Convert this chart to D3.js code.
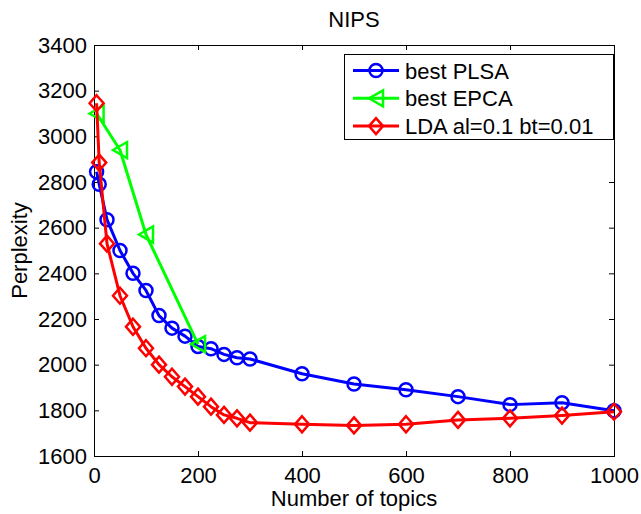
<!DOCTYPE html>
<html>
<head>
<meta charset="utf-8">
<script src="https://cdn.jsdelivr.net/npm/d3@7"></script>
<style>
  body { margin: 0; background: #fff; }
  svg text { font-family: "Liberation Sans", Arial, Helvetica, sans-serif; }
</style>
</head>
<body>
<svg id="plot" width="641" height="514"></svg>
<script>
// data
var topics = [5, 10, 25, 50, 75, 100, 125, 150, 175, 200, 225, 250, 275, 300, 400, 500, 600, 700, 800, 900, 1000];
var plsa = [2845, 2790, 2635, 2500, 2400, 2325, 2215, 2160, 2125, 2080, 2070, 2045, 2030, 2025, 1960, 1915, 1890, 1860, 1825, 1833, 1798];
var epcaTopics = [5, 50, 100, 200];
var epca = [3100, 2940, 2570, 2090];
var lda = [3145, 2885, 2530, 2302, 2166, 2072, 2000, 1947, 1904, 1860, 1816, 1780, 1765, 1746, 1739, 1734, 1739, 1758, 1765, 1777, 1794];
var seriesNames = ["best PLSA", "best EPCA", "LDA al=0.1 bt=0.01"];
var xTicks = [0, 200, 400, 600, 800, 1000];
var yTicks = [1600, 1800, 2000, 2200, 2400, 2600, 2800, 3000, 3200, 3400];

var svg = d3.select("#plot"),
    margin = {top: 45, right: 27, bottom: 58, left: 94},
    width = +svg.attr("width") - margin.left - margin.right,
    height = +svg.attr("height") - margin.top - margin.bottom;

var x = d3.scaleLinear().domain([0, 1000]).range([margin.left, margin.left + width]),
    y = d3.scaleLinear().domain([1600, 3400]).range([margin.top + height, margin.top]);

var series = [
    {name: seriesNames[0], color: "#0000ff", marker: "circle", pts: topics.map(function(t, i) { return [t, plsa[i]]; })},
    {name: seriesNames[1], color: "#00ff00", marker: "triangle", pts: epcaTopics.map(function(t, i) { return [t, epca[i]]; })},
    {name: seriesNames[2], color: "#ff0000", marker: "diamond", pts: topics.map(function(t, i) { return [t, lda[i]]; })}
];

// marker shapes, drawn hollow like matlab
function markerPath(type) {
    if (type == "triangle") return "M-7,0L7,-8L7,8Z";
    if (type == "diamond") return "M0,-8L7,0L0,8L-7,0Z";
    return null;
}
function drawMarker(sel, s, cx, cy) {
    if (s.marker == "circle") {
        sel.append("circle").attr("cx", cx).attr("cy", cy).attr("r", 6.5)
            .attr("fill", "none").attr("stroke", s.color).attr("stroke-width", 2.5);
    } else {
        sel.append("path").attr("d", markerPath(s.marker))
            .attr("transform", "translate(" + cx + "," + cy + ")")
            .attr("fill", "none").attr("stroke", s.color).attr("stroke-width", 2.5)
            .attr("stroke-linejoin", "miter");
    }
}

// axes with inward ticks on all four sides
var fs = "22px";
var fmt = d3.format("d");
svg.append("g").attr("transform", "translate(" + margin.left + ",0)")
    .call(d3.axisLeft(y).tickValues(yTicks).tickFormat(fmt).tickSizeInner(-5).tickSizeOuter(0).tickPadding(7))
    .call(function(g) { g.select(".domain").remove(); })
    .selectAll("text").style("font-size", fs).attr("fill", "#000");
svg.append("g").attr("transform", "translate(0," + (margin.top + height) + ")")
    .call(d3.axisBottom(x).tickValues(xTicks).tickFormat(fmt).tickSizeInner(-5).tickSizeOuter(0).tickPadding(11))
    .call(function(g) { g.select(".domain").remove(); })
    .selectAll("text").style("font-size", fs).attr("fill", "#000");
svg.append("g").attr("transform", "translate(0," + margin.top + ")")
    .call(d3.axisTop(x).tickValues(xTicks).tickSizeInner(-5).tickSizeOuter(0).tickFormat(""))
    .call(function(g) { g.select(".domain").remove(); });
svg.append("g").attr("transform", "translate(" + (margin.left + width) + ",0)")
    .call(d3.axisRight(y).tickValues(yTicks).tickSizeInner(-5).tickSizeOuter(0).tickFormat(""))
    .call(function(g) { g.select(".domain").remove(); });

svg.append("rect")
    .attr("x", margin.left + 0.5).attr("y", margin.top + 0.5)
    .attr("width", width).attr("height", height)
    .attr("fill", "none").attr("stroke", "#000").attr("stroke-width", 1);

// lines + markers
var line = d3.line().x(function(d) { return x(d[0]); }).y(function(d) { return y(d[1]); });
series.forEach(function(s) {
    var g = svg.append("g");
    g.append("path").datum(s.pts).attr("d", line)
        .attr("fill", "none").attr("stroke", s.color).attr("stroke-width", 3)
        .attr("stroke-linejoin", "round");
    s.pts.forEach(function(p) { drawMarker(g, s, x(p[0]), y(p[1])); });
});

// title and axis labels
svg.append("text").attr("x", margin.left + width / 2).attr("y", 27)
    .attr("text-anchor", "middle").style("font-size", fs).text("NIPS");
svg.append("text").attr("x", margin.left + width / 2).attr("y", 506)
    .attr("text-anchor", "middle").style("font-size", fs).text("Number of topics");
svg.append("text").attr("transform", "translate(27," + (margin.top + height / 2) + ") rotate(-90)")
    .attr("text-anchor", "middle").style("font-size", fs).text("Perplexity");

// legend
var leg = svg.append("g");
leg.append("rect").attr("x", 344.5).attr("y", 54.5).attr("width", 269).attr("height", 85)
    .attr("fill", "#fff").attr("stroke", "#000").attr("stroke-width", 1);
series.forEach(function(s, i) {
    var ly = 70.5 + i * 27.8;
    leg.append("line").attr("x1", 353).attr("x2", 399).attr("y1", ly).attr("y2", ly)
        .attr("stroke", s.color).attr("stroke-width", 3);
    drawMarker(leg, s, 376, ly);
    leg.append("text").attr("x", 405).attr("y", ly + 8).style("font-size", fs).text(s.name);
});
</script>
</body>
</html>
